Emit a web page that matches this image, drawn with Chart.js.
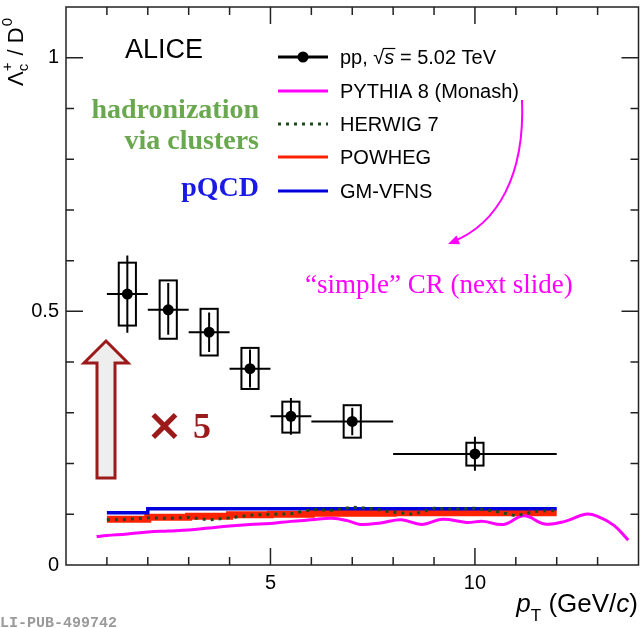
<!DOCTYPE html>
<html>
<head>
<meta charset="utf-8">
<script src="https://cdn.jsdelivr.net/npm/chart.js@4.4.1/dist/chart.umd.min.js"></script>
<style>
    html, body { margin: 0; padding: 0; background: #fff; }
    canvas { display: block; }
</style>
</head>
<body>
<canvas id="c" width="644" height="628"></canvas>
<script>

// данные: бины по pT, отношение, стат. и сист. границы
const ptLo = [1, 2, 3, 4, 5, 6, 8];
const ptHi = [2, 3, 4, 5, 6, 8, 12];
const ratio = [0.534, 0.503, 0.459, 0.387, 0.293, 0.283, 0.219];
const statLo = [0.458, 0.454, 0.420, 0.350, 0.257, 0.256, 0.186];
const statHi = [0.610, 0.556, 0.498, 0.425, 0.329, 0.310, 0.253];
const systLo = [0.472, 0.446, 0.413, 0.347, 0.261, 0.251, 0.196];
const systHi = [0.596, 0.561, 0.505, 0.428, 0.322, 0.315, 0.241];

// PYTHIA 8 (Monash)
const pythiaPt = [0.75, 1.0, 1.5, 2.0, 2.5, 3.0, 3.5, 4.0, 4.5, 5.0, 5.5, 6.0, 6.5, 6.9, 7.2, 7.7,
    8.2, 8.7, 9.2, 9.8, 10.2, 10.7, 11.2, 11.7, 12.2, 12.7, 13.0, 13.4, 13.75];
const pythiaVal = [0.056, 0.058, 0.061, 0.065, 0.067, 0.069, 0.073, 0.077, 0.080, 0.082, 0.086, 0.089, 0.092,
    0.087, 0.080, 0.083, 0.089, 0.080, 0.090, 0.084, 0.086, 0.080, 0.097, 0.081, 0.086, 0.100, 0.096, 0.078, 0.049];

// HERWIG 7
const herwigPt = [1.0, 1.5, 2.0, 2.5, 3.0, 3.5, 4.0, 4.5, 5.0, 5.5, 6.0, 6.5, 7.0, 7.5, 8.0, 8.5,
    9.0, 9.5, 10.0, 10.5, 11.0, 11.5, 12.0];
const herwigVal = [0.089, 0.090, 0.093, 0.092, 0.094, 0.089, 0.093, 0.098, 0.100, 0.101, 0.109, 0.108,
    0.114, 0.111, 0.104, 0.100, 0.112, 0.110, 0.112, 0.106, 0.097, 0.106, 0.108];

// POWHEG, GM-VFNS — гистограммы: края бинов и значения
const powhegEdges = [1, 2, 3, 4, 5, 6, 8, 12];
const powhegVal = [0.090, 0.094, 0.096, 0.099, 0.100, 0.102, 0.103];
const gmvfnsEdges = [1, 2, 12];
const gmvfnsVal = [0.103, 0.111];

const xTicksLabeled = [5, 10];
const yTicksLabeled = [0, 0.5, 1];

const FONT = '"Liberation Sans", Arial, sans-serif';
const SERIF = '"Liberation Serif", "Times New Roman", serif';
const C_PYTHIA = '#ff00ff';
const C_HERWIG = '#1d4a1d';
const C_POWHEG = '#ff2200';
const C_GMVFNS = '#0000dd';
const DARKRED = '#9c1a1a';

const pts = (xs, ys) => xs.map((x, i) => ({ x, y: ys[i] }));
// гистограмма -> точки на нижних краях + последняя точка на правом краю (stepped: 'before')
const histPts = (edges, vals) => edges.map((e, i) => ({ x: e, y: vals[Math.min(i, vals.length - 1)] }));

// рамка и тики внутрь со всех четырёх сторон, как в ROOT
const framePlugin = {
    id: 'frame',
    afterDraw(chart) {
        const { ctx, chartArea: a, scales: { x, y } } = chart;
        ctx.save();
        ctx.strokeStyle = '#222';
        ctx.lineWidth = 1.5;
        ctx.strokeRect(a.left, a.top, a.right - a.left, a.bottom - a.top);
        ctx.beginPath();
        for (let i = 1; i <= 13; i++) {
            const p = x.getPixelForValue(i);
            const len = i % 5 === 0 ? 17 : 8;
            ctx.moveTo(p, a.bottom); ctx.lineTo(p, a.bottom - len);
            ctx.moveTo(p, a.top); ctx.lineTo(p, a.top + len);
        }
        for (let i = 1; i <= 10; i++) {
            const p = y.getPixelForValue(i / 10);
            const len = i % 5 === 0 ? 17 : 8;
            ctx.moveTo(a.left, p); ctx.lineTo(a.left + len, p);
            ctx.moveTo(a.right, p); ctx.lineTo(a.right - len, p);
        }
        ctx.stroke();
        ctx.restore();
    },
};

// ошибки: горизонтальная ширина бина, стат. линия, сист. коробка
const errPlugin = {
    id: 'errs',
    afterDatasetsDraw(chart) {
        const { ctx, scales: { x, y } } = chart;
        ctx.save();
        ctx.strokeStyle = '#000';
        ctx.lineWidth = 2;
        for (let i = 0; i < ratio.length; i++) {
            const xc = x.getPixelForValue((ptLo[i] + ptHi[i]) / 2);
            const yc = y.getPixelForValue(ratio[i]);
            ctx.beginPath();
            ctx.moveTo(x.getPixelForValue(ptLo[i]), yc);
            ctx.lineTo(x.getPixelForValue(ptHi[i]), yc);
            ctx.moveTo(xc, y.getPixelForValue(statLo[i]));
            ctx.lineTo(xc, y.getPixelForValue(statHi[i]));
            ctx.stroke();
            const bx0 = x.getPixelForValue((ptLo[i] + ptHi[i]) / 2 - 0.21);
            const bx1 = x.getPixelForValue((ptLo[i] + ptHi[i]) / 2 + 0.21);
            const by0 = y.getPixelForValue(systHi[i]);
            const by1 = y.getPixelForValue(systLo[i]);
            ctx.strokeRect(bx0, by0, bx1 - bx0, by1 - by0);
        }
        ctx.restore();
    },
};

// подписи осей, легенда, аннотации
const textPlugin = {
    id: 'texts',
    afterDraw(chart) {
        const { ctx } = chart;
        ctx.save();
        ctx.fillStyle = '#000';
        ctx.textBaseline = 'alphabetic';

        // Y: Λc+ / D0, повернуто
        ctx.save();
        ctx.translate(23, 86);
        ctx.rotate(-Math.PI / 2);
        let cx = 0;
        ctx.font = `22px ${FONT}`;
        ctx.fillText('Λ', cx, 0); cx += ctx.measureText('Λ').width;
        ctx.font = `15px ${FONT}`;
        ctx.fillText('c', cx, 5);
        ctx.fillText('+', cx, -11);
        cx += ctx.measureText('+').width + 1;
        ctx.font = `22px ${FONT}`;
        ctx.fillText(' / D', cx, 0); cx += ctx.measureText(' / D').width;
        ctx.font = `15px ${FONT}`;
        ctx.fillText('0', cx + 1, -11);
        ctx.restore();

        // X: pT (GeV/c), прижато вправо
        const xparts = [
            { t: 'p', f: `italic 26px ${FONT}`, dy: 0 },
            { t: 'T', f: `17px ${FONT}`, dy: 9 },
            { t: ' (GeV/', f: `26px ${FONT}`, dy: 0 },
            { t: 'c', f: `italic 26px ${FONT}`, dy: 0 },
            { t: ')', f: `26px ${FONT}`, dy: 0 },
        ];
        let w = 0;
        for (const p of xparts) { ctx.font = p.f; w += ctx.measureText(p.t).width; }
        cx = 638 - w;
        for (const p of xparts) {
            ctx.font = p.f;
            ctx.fillText(p.t, cx, 612 + p.dy);
            cx += ctx.measureText(p.t).width;
        }

        // ALICE
        ctx.font = `27px ${FONT}`;
        ctx.fillText('ALICE', 125, 58);

        // легенда
        const rows = [57, 91, 124, 157, 191];
        ctx.lineWidth = 3;
        ctx.strokeStyle = '#000';
        ctx.beginPath(); ctx.moveTo(278, rows[0]); ctx.lineTo(328, rows[0]); ctx.stroke();
        ctx.beginPath(); ctx.arc(303, rows[0], 5.5, 0, Math.PI * 2); ctx.fill();
        const legLines = [
            [C_PYTHIA, 3, []],
            [C_HERWIG, 3, [3, 5]],
            [C_POWHEG, 3, []],
            [C_GMVFNS, 3, []],
        ];
        legLines.forEach(([col, lw, dash], i) => {
            ctx.strokeStyle = col; ctx.lineWidth = lw; ctx.setLineDash(dash);
            ctx.beginPath(); ctx.moveTo(278, rows[i + 1]); ctx.lineTo(328, rows[i + 1]); ctx.stroke();
        });
        ctx.setLineDash([]);
        ctx.fillStyle = '#000';
        ctx.font = `20px ${FONT}`;
        const ty = (r) => r + 7;
        cx = 340;
        ctx.fillText('pp, ', cx, ty(rows[0])); cx += ctx.measureText('pp, ').width;
        ctx.fillText('√', cx, ty(rows[0])); cx += ctx.measureText('√').width;
        ctx.font = `italic 20px ${FONT}`;
        const sw = ctx.measureText('s').width;
        ctx.fillText('s', cx, ty(rows[0]));
        ctx.lineWidth = 1.2; ctx.strokeStyle = '#000';
        ctx.beginPath(); ctx.moveTo(cx - 1, ty(rows[0]) - 15.5); ctx.lineTo(cx + sw + 1, ty(rows[0]) - 15.5); ctx.stroke();
        cx += sw;
        ctx.font = `20px ${FONT}`;
        ctx.fillText(' = 5.02 TeV', cx, ty(rows[0]));
        ['PYTHIA 8 (Monash)', 'HERWIG 7', 'POWHEG', 'GM-VFNS'].forEach((t, i) => ctx.fillText(t, 340, ty(rows[i + 1])));

        // зелёный / синий текст слева
        ctx.textAlign = 'right';
        ctx.font = `bold 28px ${SERIF}`;
        ctx.fillStyle = '#6aa84f';
        ctx.fillText('hadronization', 259, 118);
        ctx.fillText('via clusters', 259, 149);
        ctx.fillStyle = '#1a1ae6';
        ctx.fillText('pQCD', 259, 196);
        ctx.textAlign = 'left';

        // "simple" CR + изогнутая стрелка
        ctx.fillStyle = C_PYTHIA;
        ctx.font = `27px ${SERIF}`;
        ctx.fillText('“simple” CR (next slide)', 305, 293);
        ctx.strokeStyle = C_PYTHIA;
        ctx.lineWidth = 2;
        const [ex, ey, kx, ky] = [448, 244, 498, 224];
        ctx.beginPath();
        ctx.moveTo(522, 100);
        ctx.bezierCurveTo(525, 175, kx, ky, ex + 4, ey - 2);
        ctx.stroke();
        const ang = Math.atan2(ey - ky, ex - kx);
        ctx.beginPath();
        ctx.moveTo(ex, ey);
        ctx.lineTo(ex - 12 * Math.cos(ang - 0.4), ey - 12 * Math.sin(ang - 0.4));
        ctx.lineTo(ex - 12 * Math.cos(ang + 0.4), ey - 12 * Math.sin(ang + 0.4));
        ctx.closePath();
        ctx.fill();

        // большая стрелка вверх
        ctx.beginPath();
        ctx.moveTo(106, 341);
        ctx.lineTo(128, 363);
        ctx.lineTo(115, 363);
        ctx.lineTo(115, 478);
        ctx.lineTo(97, 478);
        ctx.lineTo(97, 363);
        ctx.lineTo(84, 363);
        ctx.closePath();
        ctx.fillStyle = '#eeeeee';
        ctx.fill();
        ctx.strokeStyle = DARKRED;
        ctx.lineWidth = 3;
        ctx.lineJoin = 'miter';
        ctx.stroke();

        ctx.fillStyle = DARKRED;
        ctx.font = `bold 44px "DejaVu Sans", sans-serif`;
        ctx.fillText('×', 146, 440);
        ctx.font = `bold 36px ${SERIF}`;
        ctx.fillText('5', 193, 438);

        // штамп
        ctx.fillStyle = '#9a9a9a';
        ctx.font = `bold 15px "Liberation Mono", monospace`;
        ctx.fillText('LI-PUB-499742', 0, 627);
        ctx.restore();
    },
};

new Chart(document.getElementById('c'), {
    data: {
        datasets: [
            {
                type: 'scatter', label: 'data', data: pts(ptLo.map((l, i) => (l + ptHi[i]) / 2), ratio),
                pointRadius: 5.5, pointBackgroundColor: '#000', pointBorderWidth: 0, order: 0,
            },
            {
                type: 'line', label: 'HERWIG 7', data: pts(herwigPt, herwigVal),
                borderColor: C_HERWIG, borderWidth: 3, borderDash: [3, 5], pointRadius: 0, tension: 0, order: 1,
            },
            {
                type: 'line', label: 'PYTHIA 8', data: pts(pythiaPt, pythiaVal),
                borderColor: C_PYTHIA, borderWidth: 3, pointRadius: 0, tension: 0.4, order: 2,
            },
            {
                type: 'line', label: 'GM-VFNS', data: histPts(gmvfnsEdges, gmvfnsVal),
                borderColor: C_GMVFNS, borderWidth: 3.5, pointRadius: 0, stepped: 'before', order: 3,
            },
            {
                type: 'line', label: 'POWHEG', data: histPts(powhegEdges, powhegVal),
                borderColor: C_POWHEG, borderWidth: 7, pointRadius: 0, stepped: 'before', order: 4,
            },
        ],
    },
    options: {
        responsive: false,
        animation: false,
        devicePixelRatio: 1,
        layout: { padding: { top: 7, right: 4, left: 0, bottom: 0 } },
        plugins: { legend: { display: false }, tooltip: { enabled: false } },
        scales: {
            x: {
                type: 'linear', min: 0, max: 14,
                grid: { display: false, drawTicks: false },
                border: { display: false },
                ticks: {
                    stepSize: 1, autoSkip: false, maxRotation: 0, padding: 6,
                    color: '#000', font: { family: FONT, size: 20 },
                    callback: (v) => (xTicksLabeled.includes(v) ? String(v) : ''),
                },
                afterFit: (s) => { s.height = 63; s.paddingLeft = 0; s.paddingRight = 0; },
            },
            y: {
                type: 'linear', min: 0, max: 1.1,
                grid: { display: false, drawTicks: false },
                border: { display: false },
                ticks: {
                    stepSize: 0.1, autoSkip: false, padding: 7,
                    color: '#000', font: { family: FONT, size: 20 },
                    callback: (v) => {
                        const r = Math.round(v * 10) / 10;
                        return yTicksLabeled.includes(r) ? String(r) : '';
                    },
                },
                afterFit: (s) => { s.width = 66; s.paddingTop = 0; s.paddingBottom = 0; },
            },
        },
    },
    plugins: [errPlugin, framePlugin, textPlugin],
});
</script>
</body>
</html>
